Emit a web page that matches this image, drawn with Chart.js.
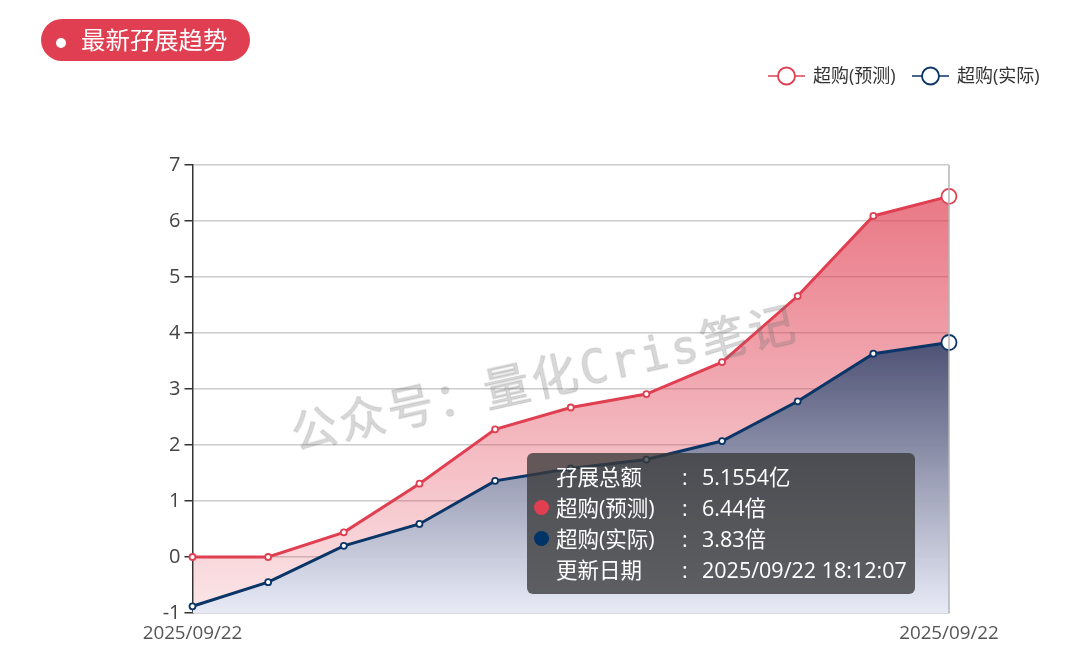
<!DOCTYPE html>
<html lang="zh">
<head>
  <meta charset="UTF-8" />
  <title>最新孖展趋势</title>
  <script src="https://cdn.jsdelivr.net/npm/chart.js"></script>
  <style>
    body { margin: 0; background: #fff; font-family: "Open Sans", "Noto Sans CJK SC", sans-serif; overflow: hidden; }
    #wrap { position: relative; width: 1073px; height: 651px; }
    canvas { position: absolute; left: 0; top: 0; }
    .pill {
      position: absolute; left: 41px; top: 19px; width: 209px; height: 42px;
      background: #e03f52; border-radius: 21px; color: #fff;
      font-size: 24.4px; line-height: 42px; text-indent: 40px;
    }
    .pill i { position: absolute; left: 15px; top: 19px; width: 10px; height: 10px; border-radius: 50%; background: #fff; }
    .legend { position: absolute; top: 63px; color: #333; font-size: 18px; line-height: 24px; white-space: nowrap; }
    .legend svg { position: absolute; left: 0; top: 3px; }
    .legend span { position: absolute; left: 45px; top: 0; }
    .watermark {
      position: absolute; left: 285px; top: 342px; width: 510px; white-space: nowrap;
      font: 400 46px "DejaVu Sans Mono", "Noto Sans CJK SC", monospace; letter-spacing: 3.200px;
      color: rgba(110, 110, 110, 0.27); transform: rotate(-12.500deg); transform-origin: center;
      -webkit-text-stroke: 0.8px rgba(110, 110, 110, 0.27);
    }
    .tip {
      position: absolute; left: 527px; top: 453px; width: 388px; height: 141px;
      background: rgba(58, 58, 58, 0.78); border-radius: 6px; color: #fff; font-size: 21.500px;
    }
    .tip div { position: absolute; left: 0; width: 100%; height: 31px; line-height: 31px; white-space: nowrap; }
    .tip b { font-weight: 400; position: absolute; left: 29px; }
    .tip em { font-style: normal; position: absolute; left: 155px; }
    .tip u { text-decoration: none; position: absolute; left: 175px; }
    .tip i { position: absolute; left: 7px; top: 8px; width: 15px; height: 15px; border-radius: 50%; }
  </style>
</head>
<body>
  <div id="wrap">
    <canvas id="trendChart" width="1073" height="651"></canvas>
    <div class="pill"><i></i>最新孖展趋势</div>
    <div class="legend" style="left:768px"><svg width="40" height="20"><line x1="0" y1="10" x2="37" y2="10" stroke="#e03f52" stroke-width="1.5"/><circle cx="18.500" cy="10" r="8.500" fill="#fff" stroke="#e03f52" stroke-width="1.8"/></svg><span>超购(预测)</span></div>
    <div class="legend" style="left:912px"><svg width="40" height="20"><line x1="0" y1="10" x2="37" y2="10" stroke="#0a3566" stroke-width="1.5"/><circle cx="18.500" cy="10" r="8.500" fill="#fff" stroke="#0a3566" stroke-width="1.8"/></svg><span>超购(实际)</span></div>
    <div class="watermark">公众号：量化Cris笔记</div>
    <div class="tip" id="tip"></div>
  </div>

  <script>
    const dates = ['2025/09/22', '2025/09/22', '2025/09/22', '2025/09/22', '2025/09/22', '2025/09/22',
                   '2025/09/22', '2025/09/22', '2025/09/22', '2025/09/22', '2025/09/22'];
    const predicted = [0, 0, 0.44, 1.31, 2.28, 2.67, 2.91, 3.48, 4.66, 6.09, 6.44];
    const actual = [-0.88, -0.45, 0.2, 0.59, 1.36, 1.58, 1.74, 2.07, 2.78, 3.63, 3.83];
    const totalAmount = '5.1554亿';
    const updatedAt = '2025/09/22 18:12:07';

    const RED = '#e03f52';
    const NAVY = '#0a3566';
    const FONT = '"Open Sans", "Noto Sans CJK SC", sans-serif';

    // tooltip box is plain html, the chart itself has no hover in the picture
    const rows = [
      ['孖展总额', totalAmount, null],
      ['超购(预测)', predicted[predicted.length - 1] + '倍', RED],
      ['超购(实际)', actual[actual.length - 1] + '倍', '#003366'],
      ['更新日期', updatedAt, null]
    ];
    document.getElementById('tip').innerHTML = rows.map((r, i) =>
      '<div style="top:' + (8 + i * 31) + 'px">' +
      (r[2] ? '<i style="background:' + r[2] + '"></i>' : '') +
      '<b>' + r[0] + '</b><em>:</em><u>' + r[1] + '</u></div>').join('');

    function areaFill(series, topColor, bottomColor) {
      return function (context) {
        const chart = context.chart;
        if (!chart.chartArea) return topColor;
        const top = chart.scales.y.getPixelForValue(Math.max(...series));
        const g = chart.ctx.createLinearGradient(0, top, 0, chart.chartArea.bottom);
        g.addColorStop(0, topColor);
        g.addColorStop(1, bottomColor);
        return g;
      };
    }

    const lastOnly = (small, big) => (c) => c.dataIndex === dates.length - 1 ? big : small;

    // right edge line goes over the end markers
    const edgeLine = {
      id: 'edgeLine',
      afterDatasetsDraw(chart) {
        const { ctx, chartArea } = chart;
        ctx.save();
        ctx.strokeStyle = '#b5b5b5';
        ctx.lineWidth = 1.5;
        ctx.beginPath();
        ctx.moveTo(chartArea.right, chartArea.top);
        ctx.lineTo(chartArea.right, chartArea.bottom);
        ctx.stroke();
        ctx.restore();
      }
    };

    new Chart(document.getElementById('trendChart').getContext('2d'), {
      type: 'line',
      plugins: [edgeLine],
      data: {
        labels: dates,
        datasets: [
          {
            label: '超购(预测)',
            data: predicted,
            order: 2,
            borderColor: RED,
            borderWidth: 3,
            tension: 0,
            clip: false,
            fill: 'start',
            backgroundColor: areaFill(predicted, 'rgba(224, 63, 82, 0.7)', 'rgba(224, 63, 82, 0.13)'),
            pointBackgroundColor: '#fff',
            pointBorderColor: RED,
            pointBorderWidth: lastOnly(1.8, 1.8),
            pointRadius: lastOnly(3, 7.5)
          },
          {
            label: '超购(实际)',
            data: actual,
            order: 1,
            borderColor: NAVY,
            borderWidth: 3,
            tension: 0,
            clip: false,
            fill: 'start',
            backgroundColor: areaFill(actual, 'rgba(65, 75, 112, 0.93)', 'rgba(232, 236, 248, 0.95)'),
            pointBackgroundColor: '#fff',
            pointBorderColor: NAVY,
            pointBorderWidth: lastOnly(1.8, 1.8),
            pointRadius: lastOnly(3, 7.5)
          }
        ]
      },
      options: {
        responsive: false,
        animation: false,
        events: [],
        layout: { padding: { top: 165, right: 124, bottom: 0, left: 0 } },
        plugins: { legend: { display: false }, tooltip: { enabled: false } },
        scales: {
          x: {
            offset: false,
            afterFit(scale) { scale.height = 38; },
            border: { color: '#ccc', width: 1.5 },
            grid: { display: false },
            ticks: {
              autoSkip: false,
              maxRotation: 0,
              padding: 1,
              color: '#555',
              font: { family: FONT, size: 18.8 },
              callback(value, index) {
                return index === 0 || index === dates.length - 1 ? this.getLabelForValue(value) : '';
              }
            }
          },
          y: {
            min: -1,
            max: 7,
            afterFit(scale) { scale.width = 192.5; },
            border: { color: '#333', width: 1.5 },
            grid: { color: '#ccc', lineWidth: 1.5, tickColor: '#333', tickLength: 8 },
            ticks: {
              stepSize: 1,
              padding: 4,
              color: '#444',
              font: { family: FONT, size: 20 }
            }
          }
        }
      }
    });
  </script>
</body>
</html>
